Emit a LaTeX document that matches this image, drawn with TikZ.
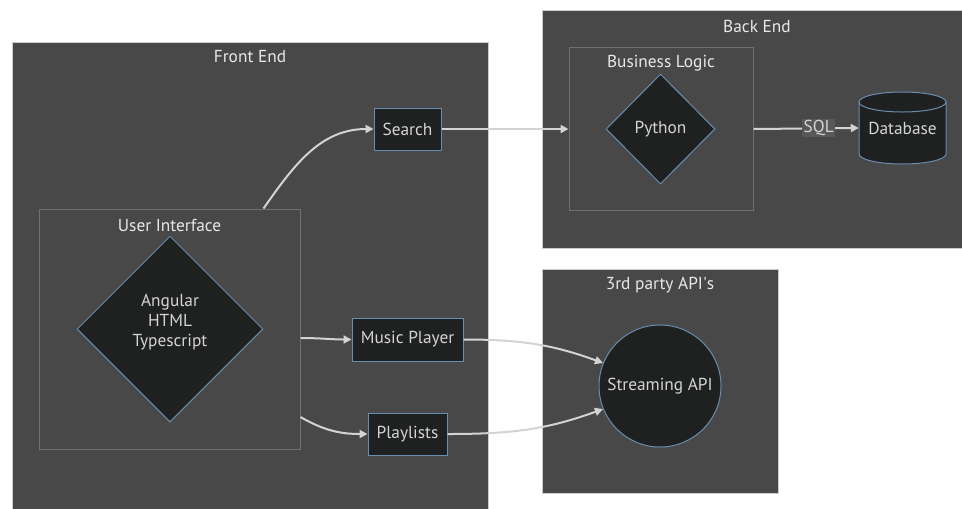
\documentclass[tikz,border=0pt]{standalone}
\usepackage{fontspec}
\setmainfont{PT Sans}
\usetikzlibrary{shapes.geometric,arrows.meta}
\definecolor{clfill}{HTML}{484848}
\definecolor{clborder}{HTML}{CCCCCC}
\definecolor{inborder}{HTML}{707070}
\definecolor{nfill}{HTML}{1F2020}
\definecolor{nborder}{HTML}{6A8CAE}
\definecolor{ntext}{HTML}{D4D4D4}
\definecolor{ttext}{HTML}{E8E8E8}
\definecolor{edgec}{HTML}{D3D3D3}
\definecolor{lblbg}{HTML}{585858}
\begin{document}
\begin{tikzpicture}[x=0.75pt,y=-0.75pt,
 font=\fontsize{13}{15}\selectfont,
 cluster/.style={draw=clborder, fill=clfill, line width=0.75pt, inner sep=0pt},
 subcluster/.style={draw=inborder, fill=clfill, line width=0.75pt, inner sep=0pt},
 ctitle/.style={text=ttext, inner sep=0pt},
 proc/.style={draw=nborder, fill=nfill, line width=0.75pt, text=ntext, inner sep=0pt},
 dec/.style={diamond, aspect=1, draw=nborder, fill=nfill, line width=0.75pt, text=ntext, inner sep=0pt},
 conn/.style={draw=edgec, line width=1.5pt, -{Triangle[length=6pt,width=6pt]}},
]
\useasboundingbox (0,0) rectangle (962,508);
\clip (0,0) rectangle (962,508);

% Front End
\node[cluster, minimum width=357pt, minimum height=352.5pt] (fe) at (250,277) {};
\node[ctitle] (fet) at (250,57) {Front End};
\node[subcluster, minimum width=195.75pt, minimum height=180pt] (ui) at (169.5,329) {};
\node[ctitle] (uit) at (169.5,225) {User Interface};
\node[dec, minimum width=139.5pt, minimum height=139.5pt] (ang) at (170,329) {};
\node[text=ntext, align=center, inner sep=0pt] (angt) at (170,322) {Angular\\HTML\\Typescript};
\node[proc, minimum width=50.25pt, minimum height=31.5pt] (search) at (407.5,129) {Search};
\node[proc, minimum width=83.25pt, minimum height=32.25pt] (mp) at (407.5,339.5) {Music Player};
\node[proc, minimum width=59.25pt, minimum height=31.5pt] (pl) at (407.5,434) {Playlists};

% Back End
\node[cluster, minimum width=322.5pt, minimum height=178.5pt] (be) at (757,129) {};
\node[ctitle] (bet) at (757,26) {Back End};
\node[subcluster, minimum width=138pt, minimum height=122.25pt] (bl) at (661,128.5) {};
\node[ctitle] (blt) at (661,63) {Business Logic};
\node[dec, minimum width=81.75pt, minimum height=82.5pt] (py) at (660.5,129) {Python};
% Database cylinder
\path[draw=nborder, fill=nfill, line width=0.75pt]
  (859,102) -- (859,154)
  arc[start angle=180, end angle=360, x radius=32.625pt, y radius=7.5pt]
  -- (946,102)
  arc[start angle=0, end angle=180, x radius=32.625pt, y radius=7.5pt] -- cycle;
\draw[nborder, line width=0.75pt] (859,102)
  arc[start angle=180, end angle=360, x radius=32.625pt, y radius=7.5pt];
\node[text=ntext, inner sep=0pt, minimum width=65.25pt] (db) at (902.5,128) {Database};

% 3rd party
\node[cluster, minimum width=177pt, minimum height=168pt] (tp) at (660,381) {};
\node[ctitle] (tpt) at (660,285) {3rd party API\textquotesingle s};
\node[circle, draw=nborder, fill=nfill, line width=0.75pt, text=ntext, minimum size=91.5pt, inner sep=0pt] (api) at (660,386) {Streaming API};

% connectors
\draw[conn] ([xshift=-27.75pt]ui.north east) to[out=55, in=180] (search.west);
\draw[conn] (search.east) -- (search.east -| bl.west);
\draw[conn] (bl.east |- py.east) -- node[pos=0.62, fill=lblbg, text=ntext, inner sep=1pt] (sql) {SQL} (db.west);
\draw[conn] ([yshift=-6.75pt]ui.east) to[out=0, in=180] (mp.west);
\draw[conn] ([yshift=-66pt]ui.east) to[out=-30, in=180] (pl.west);
\draw[conn] (mp.east) to[out=0, in=160] (api.158);
\draw[conn] (pl.east) to[out=0, in=200] (api.202);
\end{tikzpicture}
\end{document}
